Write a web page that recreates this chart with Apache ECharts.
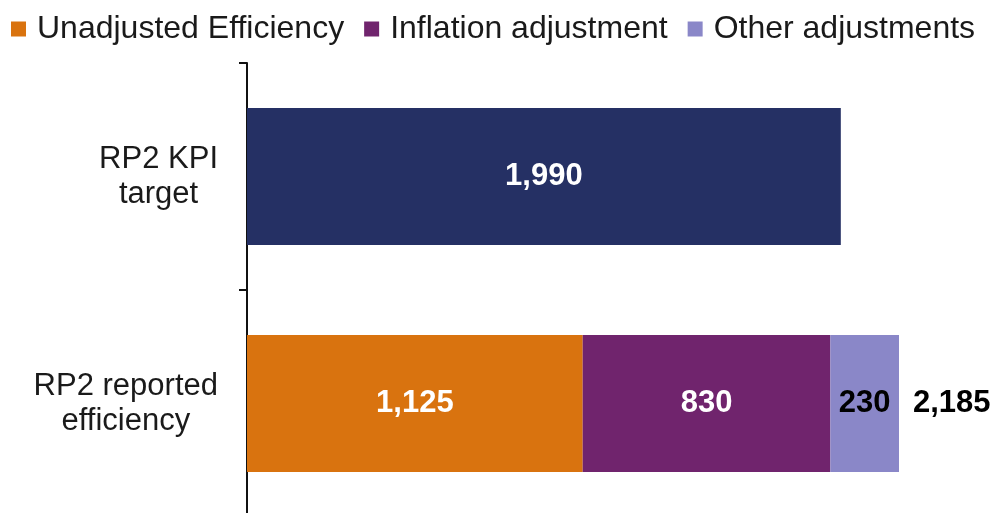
<!DOCTYPE html>
<html>
<head>
<meta charset="utf-8">
<script src="https://cdn.jsdelivr.net/npm/echarts@6/dist/echarts.min.js"></script>
<style>html,body{margin:0;padding:0;background:#fff}#c{width:996px;height:513px}</style>
</head>
<body>
<div id="c"></div>
<script>
const categories = ['RP2 KPI\ntarget', 'RP2 reported\nefficiency'];
const kpiTarget = [1990, null];
const unadjusted = [null, 1125];
const inflation = [null, 830];
const other = [null, 230];
const totals = [null, 2185];
const seriesNames = ['Unadjusted Efficiency', 'Inflation adjustment', 'Other adjustments'];

const FONT = '"Liberation Sans", Arial, sans-serif';
const fmt = v => v.toLocaleString('en-US');
const valueLabel = (color) => ({
  show: true, position: 'inside', color: color, fontWeight: 'bold', fontSize: 31, fontFamily: FONT,
  formatter: p => fmt(p.value)
});

const chart = echarts.init(document.getElementById('c'), null, {renderer: 'canvas'});
chart.setOption({
  animation: false,
  backgroundColor: '#fff',
  textStyle: {fontFamily: FONT},
  legend: {
    data: seriesNames,
    left: 6, top: 8,
    icon: 'rect', itemWidth: 15, itemHeight: 15, itemGap: 20,
    textStyle: {fontSize: 32, color: '#1a1a1a', fontFamily: FONT, padding: [0, 0, 0, 6]}
  },
  grid: {left: 247, right: 3, top: 63, bottom: -4, containLabel: false, outerBoundsMode: 'none'},
  xAxis: {type: 'value', min: 0, max: 2500, show: false},
  yAxis: {
    type: 'category', data: categories, inverse: true,
    axisLine: {show: true, lineStyle: {color: '#111', width: 2}},
    axisTick: {show: true, length: 8, alignWithLabel: false, lineStyle: {color: '#111', width: 2}},
    axisLabel: {
      margin: 29, align: 'right',
      formatter: v => v.split('\n').map(s => '{a|' + s + '}').join('\n'),
      rich: {a: {fontSize: 31, lineHeight: 35, color: '#1a1a1a', align: 'center', fontFamily: FONT}}
    }
  },
  series: [
    {name: 'RP2 KPI target', type: 'bar', stack: 'a', barWidth: 137, data: kpiTarget,
     itemStyle: {color: '#253064'}, label: valueLabel('#fff')},
    {name: seriesNames[0], type: 'bar', stack: 'a', barWidth: 137, data: unadjusted,
     itemStyle: {color: '#D9730F'}, label: valueLabel('#fff')},
    {name: seriesNames[1], type: 'bar', stack: 'a', barWidth: 137, data: inflation,
     itemStyle: {color: '#70246D'}, label: valueLabel('#fff')},
    {name: seriesNames[2], type: 'bar', stack: 'a', barWidth: 137, data: other,
     itemStyle: {color: '#8A87C8'}, label: valueLabel('#000')},
    {name: 'Total', type: 'bar', stack: 'a', barWidth: 137,
     data: totals.map(t => t == null ? null : 0),
     itemStyle: {color: 'transparent'},
     label: {show: true, position: 'right', distance: 14, color: '#000', fontWeight: 'bold', fontSize: 31, fontFamily: FONT,
             formatter: p => totals[p.dataIndex] == null ? '' : fmt(totals[p.dataIndex])}}
  ]
});
</script>
</body>
</html>
